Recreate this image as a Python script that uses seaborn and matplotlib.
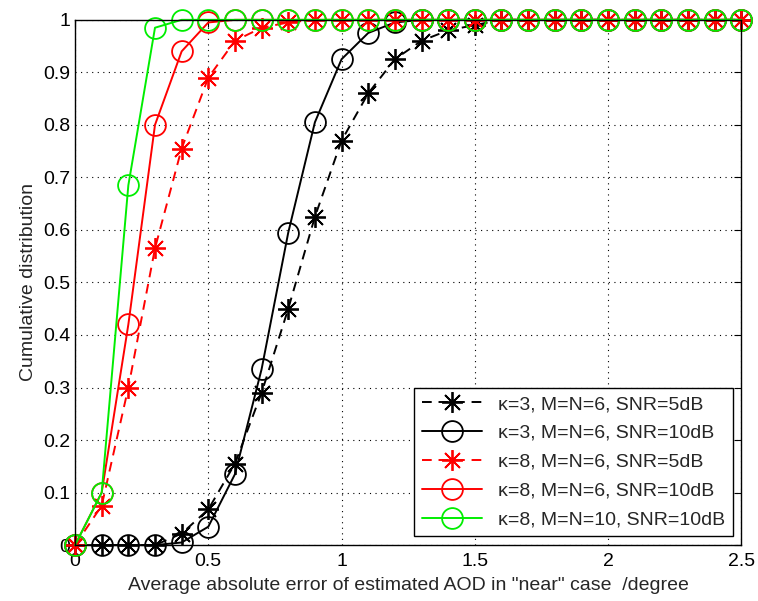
import numpy as np
import seaborn as sns
import matplotlib.pyplot as plt

# Данные: значения по оси x (шаг 0.1) и кривые распределения
x_vals = np.round(np.arange(0, 2.51, 0.1), 1)

k3_snr5 = [0, 0, 0, 0, 0.022, 0.068, 0.155, 0.29, 0.45, 0.625, 0.77, 0.86, 0.925,
           0.96, 0.98, 0.99, 1, 1, 1, 1, 1, 1, 1, 1, 1, 1]
k3_snr10 = [0, 0, 0, 0, 0.005, 0.035, 0.135, 0.335, 0.595, 0.805, 0.925, 0.975, 0.995,
            1, 1, 1, 1, 1, 1, 1, 1, 1, 1, 1, 1, 1]
k8_snr5 = [0, 0.075, 0.3, 0.565, 0.755, 0.89, 0.96, 0.985, 0.995, 1, 1, 1, 1,
           1, 1, 1, 1, 1, 1, 1, 1, 1, 1, 1, 1, 1]
k8_snr10 = [0, 0.1, 0.42, 0.8, 0.94, 0.995, 1, 1, 1, 1, 1, 1, 1,
            1, 1, 1, 1, 1, 1, 1, 1, 1, 1, 1, 1, 1]
k8_m10_snr10 = [0, 0.1, 0.685, 0.985, 1, 1, 1, 1, 1, 1, 1, 1, 1,
                1, 1, 1, 1, 1, 1, 1, 1, 1, 1, 1, 1, 1]

labels = ['κ=3, M=N=6, SNR=5dB', 'κ=3, M=N=6, SNR=10dB', 'κ=8, M=N=6, SNR=5dB',
          'κ=8, M=N=6, SNR=10dB', 'κ=8, M=N=10, SNR=10dB']

sns.set_style('white')
plt.rcParams['font.family'] = ['Liberation Sans', 'DejaVu Sans']

fig = plt.figure(figsize=(7.58, 6.01), dpi=100)
ax = fig.add_axes([0.099, 0.093, 0.879, 0.874])

star = (8, 2, 0)
dash = (0, (5, 3.5))
series = [
    (k3_snr5, 'black', dash, star),
    (k3_snr10, 'black', '-', 'o'),
    (k8_snr5, 'red', dash, star),
    (k8_snr10, 'red', '-', 'o'),
    (k8_m10_snr10, '#00ee00', '-', 'o'),
]
for (y, c, ls, m), lab in zip(series, labels):
    sns.lineplot(x=x_vals, y=y, ax=ax, color=c, linestyle=ls, linewidth=1.4,
                 marker=m, markersize=15, markerfacecolor='none',
                 markeredgecolor=c, markeredgewidth=1.3, label=lab)
for ln in ax.lines:
    ln.set_clip_on(False)

ax.set_xlim(0, 2.5)
ax.set_ylim(0, 1)
ax.set_xticks(np.arange(0, 2.51, 0.5))
ax.set_xticklabels(['0', '0.5', '1', '1.5', '2', '2.5'])
ax.set_yticks(np.round(np.arange(0, 1.01, 0.1), 1))
ax.set_yticklabels(['0', '0.1', '0.2', '0.3', '0.4', '0.5', '0.6', '0.7', '0.8', '0.9', '1'])
ax.tick_params(direction='in', length=5, labelsize=14, top=True, right=True,
               color='black', labelcolor='black')
ax.tick_params(axis='x', pad=6)
ax.grid(True, linestyle=(0, (1, 4)), color='black', linewidth=0.8)
for s in ax.spines.values():
    s.set_color('black')
    s.set_linewidth(1)
ax.set_xlabel('Average absolute error of estimated AOD in "near" case  /degree',
              fontsize=14, labelpad=5)
ax.set_ylabel('Cumulative distribution', fontsize=14)

leg = ax.legend(loc='lower right', fontsize=14, handlelength=3.1, frameon=True,
                fancybox=False, edgecolor='black', borderaxespad=0.45,
                labelspacing=0.58, framealpha=1)
leg.get_frame().set_linewidth(1)
leg.set_zorder(5)

plt.savefig('out.png', dpi=100)
